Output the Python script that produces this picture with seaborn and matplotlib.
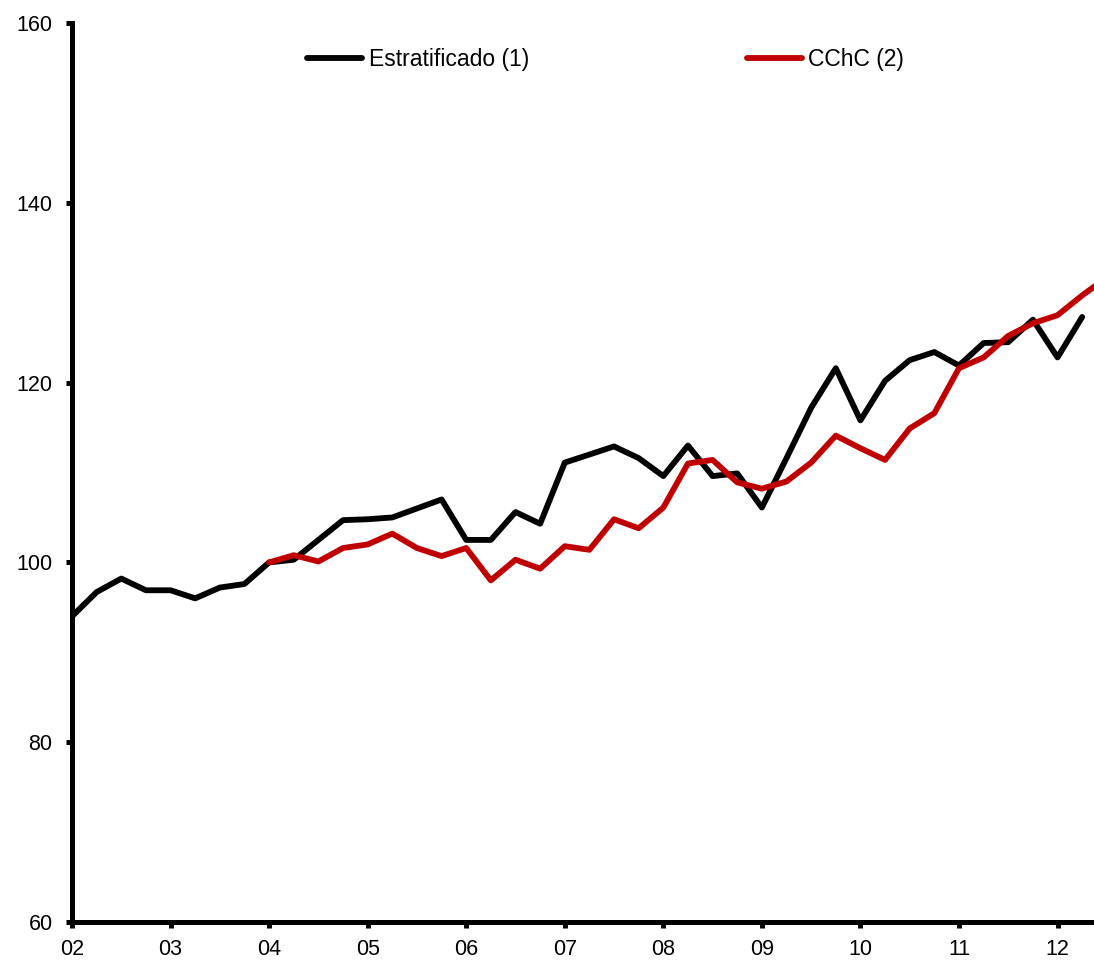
import numpy as np
import pandas as pd
import matplotlib
matplotlib.use("Agg")
import matplotlib.pyplot as plt
import seaborn as sns

# quarterly index values, 2002Q1 .. 2012Q3
quarters = pd.period_range("2002Q1", "2012Q3", freq="Q")

estratificado = [94.0, 96.7, 98.2, 96.9, 96.9, 96.0, 97.2, 97.6,
                 100.0, 100.3, 102.5, 104.7, 104.8, 105.0, 106.0, 107.0,
                 102.5, 102.5, 105.6, 104.3, 111.1, 112.0, 112.9, 111.6,
                 109.6, 113.0, 109.6, 109.9, 106.1, 111.6, 117.2, 121.6,
                 115.8, 120.2, 122.5, 123.4, 121.9, 124.4, 124.5, 127.0,
                 122.8, 127.3, np.nan]

cchc = [np.nan] * 8 + [100.0, 100.8, 100.1, 101.6, 102.0, 103.2, 101.6, 100.7,
                       101.6, 98.0, 100.3, 99.3, 101.8, 101.4, 104.8, 103.8,
                       106.1, 111.0, 111.4, 108.9, 108.2, 109.0, 111.1, 114.1,
                       112.7, 111.4, 114.9, 116.6, 121.6, 122.8, 125.2, 126.6,
                       127.5, 129.7, 131.7]

series_names = ["Estratificado (1)", "CChC (2)"]
colors = ["#000000", "#C00000"]
year_ticks = list(range(2002, 2013))
year_labels = ["02", "03", "04", "05", "06", "07", "08", "09", "10", "11", "12"]
y_ticks = [60, 80, 100, 120, 140, 160]


def main():
    sns.set_style("ticks")
    plt.rcParams["font.family"] = ["Liberation Sans", "DejaVu Sans"]

    t = quarters.year + (quarters.quarter - 1) / 4
    df = pd.DataFrame({"t": t, series_names[0]: estratificado, series_names[1]: cchc})
    long = df.melt(id_vars="t", var_name="serie", value_name="valor").dropna()

    fig = plt.figure(figsize=(10.94, 9.6), dpi=100)
    ax = fig.add_axes([72 / 1094, 1 - 922 / 960, 1 - 72 / 1094, (922 - 23) / 960])

    sns.lineplot(data=long, x="t", y="valor", hue="serie", hue_order=series_names,
                 palette=colors, linewidth=4.2, ax=ax)

    ax.set_xlim(2002, 2012.37)
    ax.set_ylim(60, 160)
    ax.set_xticks(year_ticks)
    ax.set_xticklabels(year_labels)
    ax.set_yticks(y_ticks)
    ax.set_xlabel("")
    ax.set_ylabel("")

    for side in ["top", "right"]:
        ax.spines[side].set_visible(False)
    for side in ["left", "bottom"]:
        ax.spines[side].set_linewidth(3.6)
        ax.spines[side].set_color("black")
    ax.tick_params(axis="both", direction="out", length=4, width=3.6, colors="black",
                   labelsize=15.5)
    ax.tick_params(axis="y", pad=10)
    ax.tick_params(axis="x", pad=8)

    leg = ax.legend(loc="center", bbox_to_anchor=(0.522, 0.959), ncol=2, frameon=False,
                    fontsize=16.5, handlelength=2.4, handletextpad=0.3, columnspacing=9.5)
    for line in leg.get_lines():
        line.set_linewidth(4.2)
        line.set_solid_capstyle("round")
    for txt in leg.get_texts():
        txt.set_color("black")

    fig.savefig("out.png", dpi=100)


if __name__ == "__main__":
    main()
